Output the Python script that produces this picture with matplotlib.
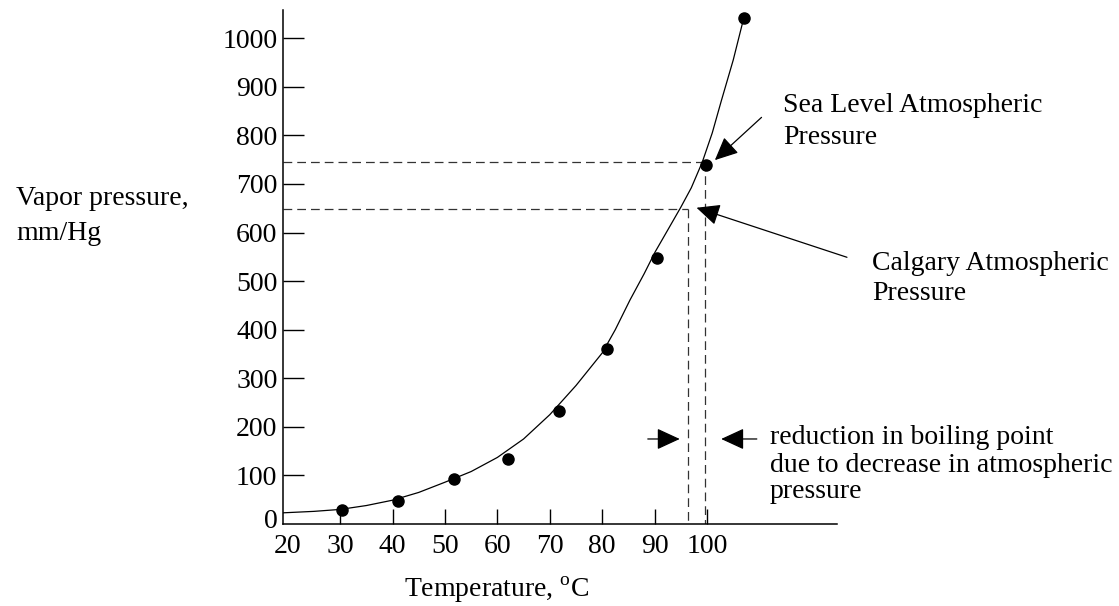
import matplotlib
matplotlib.use("Agg")
import matplotlib.pyplot as plt
import matplotlib.transforms as mtransforms

temps_measured = [30.4, 41.0, 51.7, 62.0, 71.8, 80.9, 90.5, 99.8, 107.0]
pressure_measured = [28, 47, 92, 133, 232, 360, 547, 738, 1041]

# fitted curve drawn through the points
curve_temps = [19.1, 25, 30, 35, 40, 45, 50, 55, 60, 65, 70, 75, 80, 82.5,
               85.3, 88, 90.1, 92.5, 95, 97, 99.1, 101, 102.7, 105, 107]
curve_pressure = [23, 26, 30, 38, 49, 65, 86, 108, 137, 175, 225, 285, 352,
                  400, 461, 515, 560, 605, 652, 692, 745, 805, 870, 955, 1041]

x_ticks = [20, 30, 40, 50, 60, 70, 80, 90, 100]
y_ticks = [0, 100, 200, 300, 400, 500, 600, 700, 800, 900, 1000]

# atmospheric pressure levels and matching boiling points
sea_level_p, sea_level_bp = 745, 99.6
calgary_p, calgary_bp = 648, 96.3
reduction_p = 175

plt.rcParams["font.family"] = ["Liberation Serif", "DejaVu Serif"]
plt.rcParams["mathtext.fontset"] = "custom"
plt.rcParams["mathtext.rm"] = "Liberation Serif"

W, H = 1119, 606
fig = plt.figure(figsize=(W / 100, H / 100), dpi=100)
fig.patch.set_facecolor("white")

# axes box in pixels: left 283, right 837, top 10, bottom 524
ax = fig.add_axes([283 / W, (H - 524) / H, 554 / W, 514 / H])
ax.set_xlim(19.1, 124.8)
ax.set_ylim(0, 1058)

ax.spines[["top", "right"]].set_visible(False)
ax.spines[["left", "bottom"]].set_linewidth(1.1)

FS = 20

ax.set_xticks(x_ticks)
ax.set_xticklabels([str(t) for t in x_ticks])
ax.set_yticks(y_ticks)
ax.set_yticklabels([str(t) for t in y_ticks])
ax.tick_params(axis="x", direction="in", length=11, width=1.0, pad=7,
               labelsize=FS, colors="black")
ax.tick_params(axis="y", direction="in", length=15, width=1.0, pad=4,
               labelsize=FS, colors="black")
# no tick mark at the axis corners
ax.xaxis.get_major_ticks()[0].tick1line.set_visible(False)
zero_tick = ax.yaxis.get_major_ticks()[0]
zero_tick.tick1line.set_visible(False)
# the "0" sits a little above the x axis in the original
zero_lab = zero_tick.label1
zero_lab.set_transform(zero_lab.get_transform() +
                       mtransforms.ScaledTranslation(0, 0.06,
                                                     fig.dpi_scale_trans))

# curve and points
ax.plot(curve_temps, curve_pressure, color="black", linewidth=0.9, zorder=3)
ax.plot(temps_measured, pressure_measured, "o", color="black",
        markersize=8, zorder=4)

# dashed guide lines
dash = dict(color="#333333", linewidth=0.9, dashes=(7, 4), zorder=2)
ax.plot([19.1, sea_level_bp], [sea_level_p, sea_level_p], **dash)
ax.plot([sea_level_bp, sea_level_bp], [sea_level_p, 0], **dash)
ax.plot([19.1, calgary_bp], [calgary_p, calgary_p], **dash)
ax.plot([calgary_bp, calgary_bp], [calgary_p, 0], **dash)

# arrows
arrow = dict(arrowstyle="-|>,head_length=0.65,head_width=0.3",
             mutation_scale=22, color="black", lw=0.9,
             shrinkA=0, shrinkB=0)
ax.annotate("", xy=(101.5, 749), xytext=(110.4, 837),
            arrowprops=arrow, annotation_clip=False)
ax.annotate("", xy=(98.0, 651), xytext=(126.7, 549),
            arrowprops=arrow, annotation_clip=False)
ax.annotate("", xy=(94.8, reduction_p), xytext=(88.7, reduction_p),
            arrowprops=arrow, annotation_clip=False)
ax.annotate("", xy=(102.7, reduction_p), xytext=(109.5, reduction_p),
            arrowprops=arrow, annotation_clip=False)


def label(px, py, s, **kw):
    fig.text(px / W, 1 - py / H, s, fontsize=FS, va="center", **kw)


label(16, 199, "Vapor pressure,")
label(16, 234, "mm/Hg")
label(783, 106, "Sea Level Atmospheric")
label(783, 138, "Pressure")
label(872, 263, "Calgary Atmospheric")
label(872, 294, "Pressure")
label(770, 438, "reduction in boiling point")
label(770, 465, "due to decrease in atmospheric")
label(770, 492, "pressure")
label(497, 590, r"Temperature, $^{\mathrm{o}}$C", ha="center")

fig.savefig("out.png", dpi=100, facecolor="white")
